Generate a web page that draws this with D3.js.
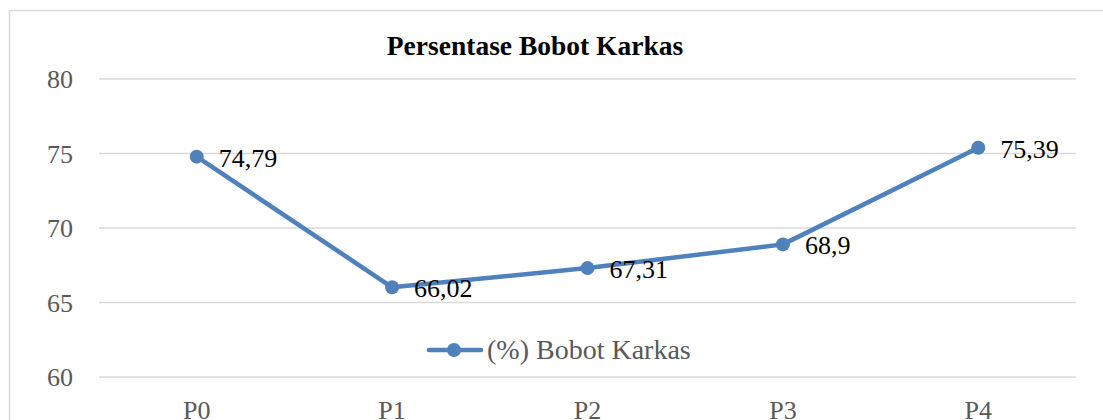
<!DOCTYPE html>
<html><head><meta charset="utf-8">
<script src="https://cdn.jsdelivr.net/npm/d3@7"></script>
<style>body{margin:0;background:#fff;overflow:hidden}svg{display:block}</style>
</head><body>
<svg id="c" width="1103" height="420"></svg>
<script>
const categories = ["P0","P1","P2","P3","P4"];
const values = [74.79, 66.02, 67.31, 68.9, 75.39];
const valueLabels = ["74,79","66,02","67,31","68,9","75,39"];
const yTicks = [60,65,70,75,80];
const seriesName = "(%) Bobot Karkas";
const title = "Persentase Bobot Karkas";

const svg = d3.select("#c");
const font = "'Liberation Serif', serif";
const color = "#4F81BD";

svg.append("rect").attr("x",9.5).attr("y",10.5).attr("width",1200).attr("height",500)
  .attr("fill","#fff").attr("stroke","#d9d9d9").attr("stroke-width",1.5);

const x = d3.scaleBand().domain(categories).range([99,1076]);
const y = d3.scaleLinear().domain([60,80]).range([377,79]);

// gridlines
svg.append("g").selectAll("line").data(yTicks).join("line")
  .attr("x1",99).attr("x2",1076).attr("y1",d=>y(d)).attr("y2",d=>y(d))
  .attr("stroke","#d9d9d9").attr("stroke-width",1.5);

// y axis labels
const yAxis = d3.axisLeft(y).tickValues(yTicks).tickSize(0).tickPadding(0);
const ya = svg.append("g").attr("transform","translate(73,0)").call(yAxis);
ya.select(".domain").remove();
ya.selectAll("text").attr("font-family",font).attr("font-size",26).attr("fill","#595959").attr("dy","0.33em");

// x axis labels
const xAxis = d3.axisBottom(x).tickSize(0).tickPadding(0);
const xa = svg.append("g").attr("transform","translate(0,401)").call(xAxis);
xa.select(".domain").remove();
xa.selectAll("text").attr("font-family",font).attr("font-size",26).attr("fill","#595959").attr("dy","0.71em");

// title
svg.append("text").attr("x",535).attr("y",55).attr("text-anchor","middle")
  .attr("font-family",font).attr("font-weight","bold").attr("font-size",27.5).attr("fill","#000").text(title);

const cx = d => x(d) + x.bandwidth()/2;
const line = d3.line().x((d,i)=>cx(categories[i])).y(d=>y(d));
svg.append("path").datum(values).attr("d",line).attr("fill","none")
  .attr("stroke",color).attr("stroke-width",4.5).attr("stroke-linejoin","round").attr("stroke-linecap","round");
svg.append("g").selectAll("circle").data(values).join("circle")
  .attr("cx",(d,i)=>cx(categories[i])).attr("cy",d=>y(d)).attr("r",7).attr("fill",color);

svg.append("g").selectAll("text").data(values).join("text")
  .attr("x",(d,i)=>cx(categories[i])+22).attr("y",d=>y(d)+10)
  .attr("font-family",font).attr("font-size",26).attr("fill","#000")
  .text((d,i)=>valueLabels[i]);

// legend
const lg = svg.append("g");
lg.append("line").attr("x1",429).attr("x2",481).attr("y1",350).attr("y2",350)
  .attr("stroke",color).attr("stroke-width",4.5).attr("stroke-linecap","round");
lg.append("circle").attr("cx",454).attr("cy",350).attr("r",7).attr("fill",color);
lg.append("text").attr("x",487).attr("y",359).attr("font-family",font).attr("font-size",28)
  .attr("fill","#595959").text(seriesName);
</script>
</body></html>
